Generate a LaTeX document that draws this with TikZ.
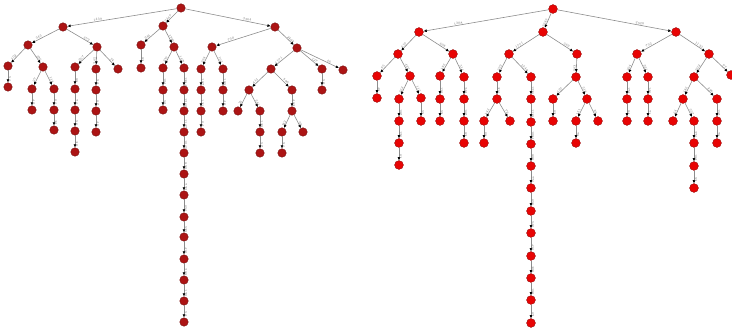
\documentclass[tikz,border=0pt]{standalone}
\usepackage{tikz}
\usetikzlibrary{arrows.meta}
\definecolor{ldark}{RGB}{172,20,20}
\definecolor{lrim}{RGB}{120,18,18}
\definecolor{rlight}{RGB}{232,4,4}
\definecolor{rrim}{RGB}{150,10,10}
\definecolor{egray}{RGB}{140,140,140}

\begin{document}
\begin{tikzpicture}[x=1pt,y=-1pt,
  lnode/.style={circle,fill=ldark,draw=lrim,line width=0.4pt,inner sep=0pt,minimum size=8.5pt},
  rnode/.style={circle,fill=rlight,draw=rrim,line width=0.4pt,inner sep=0pt,minimum size=8.8pt},
  edge/.style={draw=egray,line width=0.6pt,-{Latex[length=3.2pt,width=3pt,black]}},
  lbl/.style={sloped,above,pos=0.72,font=\fontsize{3.2}{3.6}\selectfont,text=gray!85!black,inner sep=0.4pt}]
  \useasboundingbox (0,0) rectangle (732,334);
  % Left tree: nodes
  \foreach \n/\x/\y in {L0/181/8, La/63/27, Lb/163/26, Lc/275/27,
    La1/28/45, La2/97/47, La11/8/66, La12/43/67, La111/8/87, La121/32/89, La122/54/89,
    La1211/32/110, La1221/54/110, La1222/54/130,
    La21/75/67, La22/96/69, La23/118/69, La211/75/89, La212/75/110, La213/75/131, La214/75/152,
    La221/96/90, La222/96/111, La223/96/132,
    Lb1/141/45, Lb2/174/47, Lb11/141/68, Lb21/163/68, Lb22/184/68, Lb211/163/90, Lb212/163/110,
    Lc1/212/47, Lc2/297/48, Lc11/201/69, Lc12/223/69, Lc111/201/90, Lc112/201/111, Lc113/201/132,
    Lc121/223/90, Lc122/223/111,
    Lc21/271/69, Lc22/322/69, Lc23/343/70, Lc211/249/90, Lc212/292/90, Lc2111/238/111, Lc2112/260/111,
    Lc2113/260/132, Lc2114/260/153, Lc2121/292/111, Lc2122/282/132, Lc2123/303/132, Lc2124/282/153,
    Lc221/322/90}
    \node[lnode] (\n) at (\x,\y) {};
  % Left tree: edges
  \foreach \p/\c/\w in {L0/La/1439, L0/Lb/2167, L0/Lc/3364,
    La/La1/343, La/La2/672, La1/La11/102, La1/La12/236, La11/La111/51, La12/La121/97, La12/La122/118,
    La121/La1211/42, La122/La1221/61, La1221/La1222/33,
    La2/La21/267, La2/La22/205, La2/La23/74, La21/La211/88, La211/La212/71, La212/La213/56, La213/La214/39,
    La22/La221/93, La221/La222/67, La222/La223/45,
    Lb/Lb1/245, Lb/Lb2/1790, Lb1/Lb11/83, Lb2/Lb21/219, Lb2/Lb22/1471, Lb21/Lb211/104, Lb211/Lb212/52,
    Lc/Lc1/730, Lc/Lc2/2402, Lc1/Lc11/298, Lc1/Lc12/163, Lc11/Lc111/187, Lc111/Lc112/121, Lc112/Lc113/64,
    Lc12/Lc121/109, Lc121/Lc122/48,
    Lc2/Lc21/1171, Lc2/Lc22/127, Lc2/Lc23/46, Lc21/Lc211/413, Lc21/Lc212/590, Lc211/Lc2111/76,
    Lc211/Lc2112/241, Lc2112/Lc2113/138, Lc2113/Lc2114/57, Lc212/Lc2121/463, Lc2121/Lc2122/182,
    Lc2121/Lc2123/69, Lc2122/Lc2124/91, Lc22/Lc221/58}
    \draw[edge] (\p) -- (\c) node[lbl] {\w};
  % Left tree: long chain
  \foreach \n/\y/\w [remember=\n as \p (initially Lb22)] in {Lt1/90/1384, Lt2/111/1260, Lt3/132/1137,
    Lt4/153/1015, Lt5/174/890, Lt6/195/772, Lt7/217/651, Lt8/237/529, Lt9/259/410, Lt10/280/288,
    Lt11/301/170, Lt12/322/53}
  {
    \node[lnode] (\n) at (184,\y) {};
    \draw[edge] (\p) -- (\n) node[lbl] {\w};
  }
  % Right tree: nodes
  \foreach \n/\x/\y in {R0/553/9, Ra/419/32, Rb/543/32, Rc/676/32,
    Ra1/398/54, Ra2/453/54, Ra11/377/76, Ra12/410/76, Ra111/377/98, Ra121/399/99, Ra122/421/98,
    Ra1211/399/121, Ra1212/399/143, Ra1213/399/165, Ra1221/421/121,
    Ra21/440/76, Ra22/464/77, Ra211/440/99, Ra212/440/121, Ra221/464/99, Ra222/464/121, Ra223/464/143,
    Rb1/509/54, Rb2/577/54, Rb11/497/77, Rb12/531/77, Rb111/497/99, Rb1111/484/121, Rb1112/510/121,
    Rb1113/484/143,
    Rb21/576/77, Rb211/553/99, Rb212/587/99, Rb2111/553/121, Rb2121/576/121, Rb2122/598/121, Rb2123/576/143,
    Rc1/637/54, Rc2/709/54, Rc11/627/77, Rc12/648/77, Rc111/627/99, Rc112/627/121, Rc121/648/99,
    Rc122/648/121,
    Rc21/694/77, Rc22/731/75, Rc211/683/99, Rc212/717/99, Rc2111/673/121, Rc2112/694/121, Rc2113/694/143,
    Rc2114/694/166, Rc2115/694/188, Rc2121/717/121, Rc2122/717/143}
    \node[rnode] (\n) at (\x,\y) {};
  % Right tree: edges
  \foreach \p/\c/\w in {R0/Ra/1308, R0/Rb/2349, R0/Rc/2920,
    Ra/Ra1/617, Ra/Ra2/608, Ra1/Ra11/95, Ra1/Ra12/427, Ra11/Ra111/48, Ra12/Ra121/262, Ra12/Ra122/113,
    Ra121/Ra1211/187, Ra1211/Ra1212/126, Ra1212/Ra1213/61, Ra122/Ra1221/55,
    Ra2/Ra21/186, Ra2/Ra22/314, Ra21/Ra211/122, Ra211/Ra212/59, Ra22/Ra221/243, Ra221/Ra222/167,
    Ra222/Ra223/82,
    Rb/Rb1/1771, Rb/Rb2/569, Rb1/Rb11/392, Rb1/Rb12/1348, Rb11/Rb111/311, Rb111/Rb1111/143,
    Rb111/Rb1112/72, Rb1111/Rb1113/66,
    Rb2/Rb21/503, Rb21/Rb211/127, Rb21/Rb212/318, Rb211/Rb2111/63, Rb212/Rb2121/151, Rb212/Rb2122/86,
    Rb2121/Rb2123/70,
    Rc/Rc1/752, Rc/Rc2/1133, Rc1/Rc11/264, Rc1/Rc12/221, Rc11/Rc111/173, Rc111/Rc112/84, Rc12/Rc121/146,
    Rc121/Rc122/71,
    Rc2/Rc21/902, Rc2/Rc22/97, Rc21/Rc211/486, Rc21/Rc212/238, Rc211/Rc2111/64, Rc211/Rc2112/357,
    Rc2112/Rc2113/271, Rc2113/Rc2114/183, Rc2114/Rc2115/92, Rc212/Rc2121/157, Rc2121/Rc2122/78}
    \draw[edge] (\p) -- (\c) node[lbl] {\w};
  % Right tree: long chain
  \foreach \n/\y/\w [remember=\n as \p (initially Rb12)] in {Rt1/99/1236, Rt2/122/1118, Rt3/144/1004,
    Rt4/166/889, Rt5/188/771, Rt6/211/655, Rt7/233/540, Rt8/256/422, Rt9/278/309, Rt10/300/188,
    Rt11/323/67}
  {
    \node[rnode] (\n) at (531,\y) {};
    \draw[edge] (\p) -- (\n) node[lbl] {\w};
  }
\end{tikzpicture}
\end{document}
